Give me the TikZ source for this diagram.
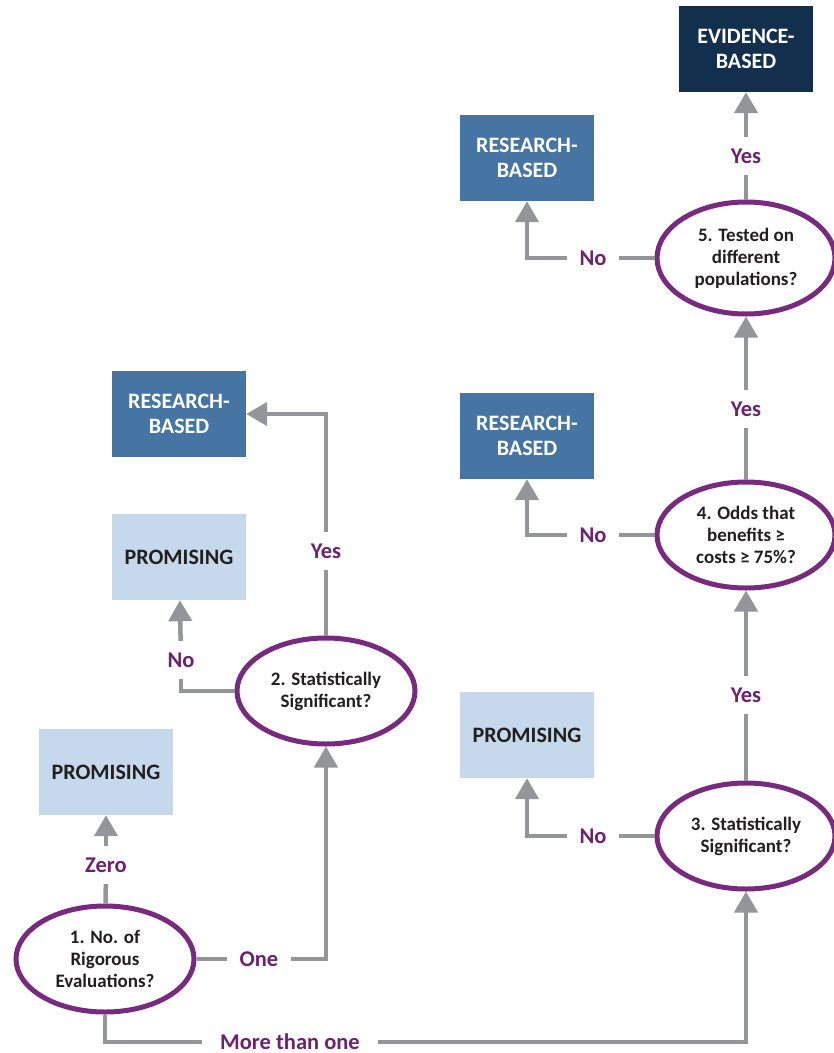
\documentclass[tikz,border=0pt]{standalone}
\usepackage{fontspec}
\setmainfont{Carlito}
\usetikzlibrary{arrows.meta,shapes.geometric}

\definecolor{linegray}{HTML}{939598}
\definecolor{lblpurple}{HTML}{6B2370}
\definecolor{ringpurple}{HTML}{782A7E}
\definecolor{rbblue}{HTML}{4674A3}
\definecolor{prblue}{HTML}{C6D8EB}
\definecolor{evnavy}{HTML}{12304E}
\definecolor{txtdark}{HTML}{231F20}

\begin{document}
\begin{tikzpicture}[x=1pt,y=-1pt]
\tikzstyle{question} = [ellipse, draw=ringpurple, line width=5pt, fill=white,
minimum width=178pt, minimum height=106pt, inner sep=0pt, align=center,
text=txtdark, font=\bfseries\fontsize{19}{22}\selectfont]
\tikzstyle{research} = [rectangle, fill=rbblue, text=white, align=center,
minimum width=134pt, minimum height=86pt, font=\bfseries\fontsize{22}{25.5}\selectfont]
\tikzstyle{promising} = [research, fill=prblue, text=txtdark]
\tikzstyle{evidence} = [research, fill=evnavy]
\tikzstyle{answer} = [text=lblpurple, font=\bfseries\fontsize{22.5}{26}\selectfont,
text height=14pt, text depth=0pt, inner xsep=12pt, inner ysep=12pt]
\tikzstyle{line} = [draw=linegray, line width=4.5pt]
\tikzstyle{arrow} = [line, -{Triangle[width=23pt,length=21pt]}]

\useasboundingbox (0,0) rectangle (834,1053);

% questions
\node [question] (q1) at (105,959) {1. No. of\\Rigorous\\Evaluations?};
\node [question] (q2) at (326,691) {2. Statistically\\Significant?};
\node [question] (q3) at (746,836) {3. Statistically\\Significant?};
\node [question] (q4) at (746,535) {4. Odds that\\benefits ≥\\costs ≥ 75\%?};
\node [question, minimum height=112pt] (q5) at (746,258) {5. Tested on\\different\\populations?};

% outcomes
\node [promising] (prom1) at (106,772) {PROMISING};
\node [promising] (prom2) at (179,557) {PROMISING};
\node [research] (res2) at (179,414) {RESEARCH-\\BASED};
\node [promising] (prom3) at (527,735) {PROMISING};
\node [research] (res4) at (527,436) {RESEARCH-\\BASED};
\node [research] (res5) at (527,158) {RESEARCH-\\BASED};
\node [evidence] (evid) at (746,49) {EVIDENCE-\\BASED};

% answers
\node [answer] (zero) at (106,865) {Zero};
\node [answer] (one) at (259,959) {One};
\node [answer, inner xsep=18pt] (more) at (290,1042) {More than one};
\node [answer] (no2) at (181,660) {No};
\node [answer] (yes2) at (326,551) {Yes};
\node [answer] (no3) at (593,836) {No};
\node [answer] (yes3) at (746,695) {Yes};
\node [answer] (no4) at (593,535) {No};
\node [answer] (yes4) at (746,409) {Yes};
\node [answer] (no5) at (593,258) {No};
\node [answer] (yes5) at (746,156) {Yes};

% question 1
\path [line] (q1) -- (zero);
\path [arrow] (zero) -- (prom1);
\path [line] (q1) -- (one);
\path [arrow] (one) -| (q2);
\path [line] (q1) |- (more);
\path [arrow] (more) -| (q3);
% question 2
\path [line] (q2) -| (no2);
\path [arrow] (no2) -- (prom2);
\path [line] (q2) -- (yes2);
\path [arrow] (yes2) |- (res2);
% questions 3 to 5
\path [line] (q3) -- (no3);
\path [arrow] (no3) -| (prom3);
\path [line] (q3) -- (yes3);
\path [arrow] (yes3) -- (q4);
\path [line] (q4) -- (no4);
\path [arrow] (no4) -| (res4);
\path [line] (q4) -- (yes4);
\path [arrow] (yes4) -- (q5);
\path [line] (q5) -- (no5);
\path [arrow] (no5) -| (res5);
\path [line] (q5) -- (yes5);
\path [arrow] (yes5) -- (evid);
\end{tikzpicture}
\end{document}
